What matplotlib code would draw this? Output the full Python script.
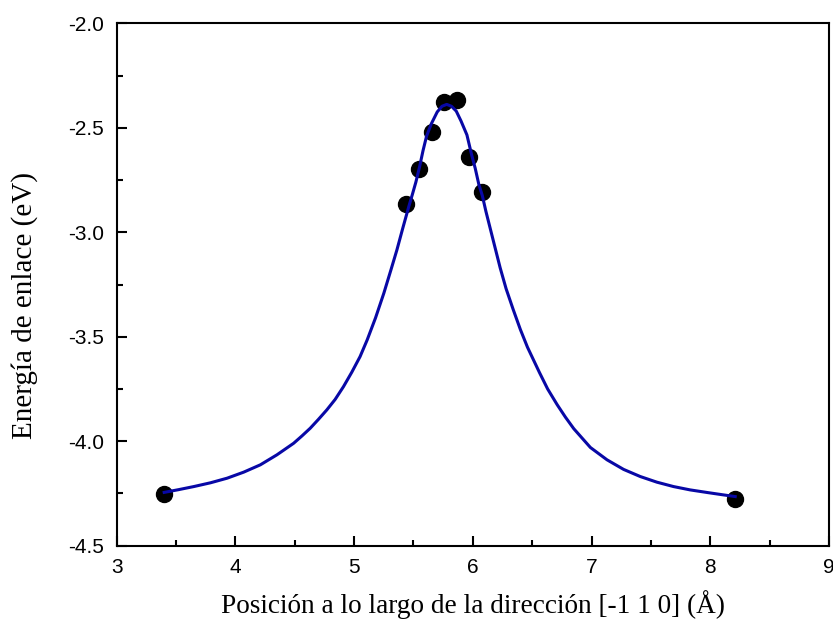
import matplotlib
matplotlib.use("Agg")
import matplotlib.pyplot as plt
from matplotlib.ticker import MultipleLocator, FormatStrFormatter

# Data points (binding energy vs position)
pos_x = [3.40, 5.437, 5.549, 5.654, 5.757, 5.867, 5.971, 6.075, 8.21]
energy_y = [-4.251, -2.866, -2.696, -2.519, -2.378, -2.368, -2.638, -2.806, -4.278]

# Fit curve
curve_x = [3.40, 3.52, 3.65, 3.79, 3.93, 4.07, 4.21, 4.35, 4.49, 4.56, 4.63, 4.70,
           4.77, 4.84, 4.91, 4.98, 5.05, 5.11, 5.18, 5.25, 5.31, 5.36, 5.41, 5.46,
           5.49, 5.52, 5.55, 5.58, 5.61, 5.65, 5.70, 5.74, 5.78, 5.82, 5.86, 5.90,
           5.95, 5.99, 6.02, 6.05, 6.08, 6.11, 6.15, 6.19, 6.23, 6.28, 6.34, 6.40,
           6.46, 6.51, 6.56, 6.63, 6.71, 6.78, 6.85, 6.99, 7.13, 7.27, 7.41, 7.55,
           7.69, 7.83, 7.98, 8.10, 8.21]
curve_y = [-4.245, -4.232, -4.217, -4.199, -4.177, -4.148, -4.113, -4.065, -4.010,
           -3.975, -3.938, -3.895, -3.850, -3.800, -3.739, -3.670, -3.595, -3.515,
           -3.410, -3.292, -3.180, -3.085, -2.980, -2.878, -2.820, -2.760, -2.690,
           -2.610, -2.540, -2.481, -2.424, -2.397, -2.388, -2.397, -2.420, -2.467,
           -2.534, -2.630, -2.694, -2.770, -2.825, -2.900, -2.990, -3.080, -3.170,
           -3.270, -3.370, -3.465, -3.550, -3.610, -3.670, -3.750, -3.825, -3.885,
           -3.940, -4.030, -4.089, -4.135, -4.169, -4.196, -4.217, -4.233, -4.246,
           -4.256, -4.265]

xlabel = "Posición a lo largo de la dirección [-1 1 0] (Å)"
ylabel = "Energía de enlace (eV)"

fig = plt.figure(figsize=(8.33, 6.22), dpi=100)
ax = fig.add_axes([0.1401, 0.1227, 0.8551, 0.8398])

ax.plot(pos_x, energy_y, 'o', color='black', markersize=11.5, zorder=2, clip_on=False)
ax.plot(curve_x, curve_y, '-', color='#0808a6', linewidth=2.2, zorder=3,
        solid_joinstyle='round')

ax.set_xlim(3, 9)
ax.set_ylim(-4.5, -2.0)
ax.xaxis.set_major_locator(MultipleLocator(1))
ax.xaxis.set_minor_locator(MultipleLocator(0.5))
ax.yaxis.set_major_locator(MultipleLocator(0.5))
ax.yaxis.set_minor_locator(MultipleLocator(0.25))
ax.yaxis.set_major_formatter(FormatStrFormatter('%.1f'))

for s in ax.spines.values():
    s.set_linewidth(1.5)
    s.set_color('black')

ax.tick_params(which='major', direction='in', length=7, width=1.5, pad=9,
               labelsize=15, top=False, right=False)
ax.tick_params(which='minor', direction='in', length=4, width=1.5,
               top=False, right=False)
for lab in ax.get_xticklabels() + ax.get_yticklabels():
    lab.set_fontfamily('Liberation Sans')

ax.set_xlabel(xlabel, fontfamily='Liberation Serif', fontsize=19.6)
ax.set_ylabel(ylabel, fontfamily='Liberation Serif', fontsize=21)
ax.xaxis.label.set_va('baseline')
ax.xaxis.set_label_coords(0.5, -0.1285)
ax.yaxis.set_label_coords(-0.111, 0.46)

fig.savefig('out.png', dpi=100)
